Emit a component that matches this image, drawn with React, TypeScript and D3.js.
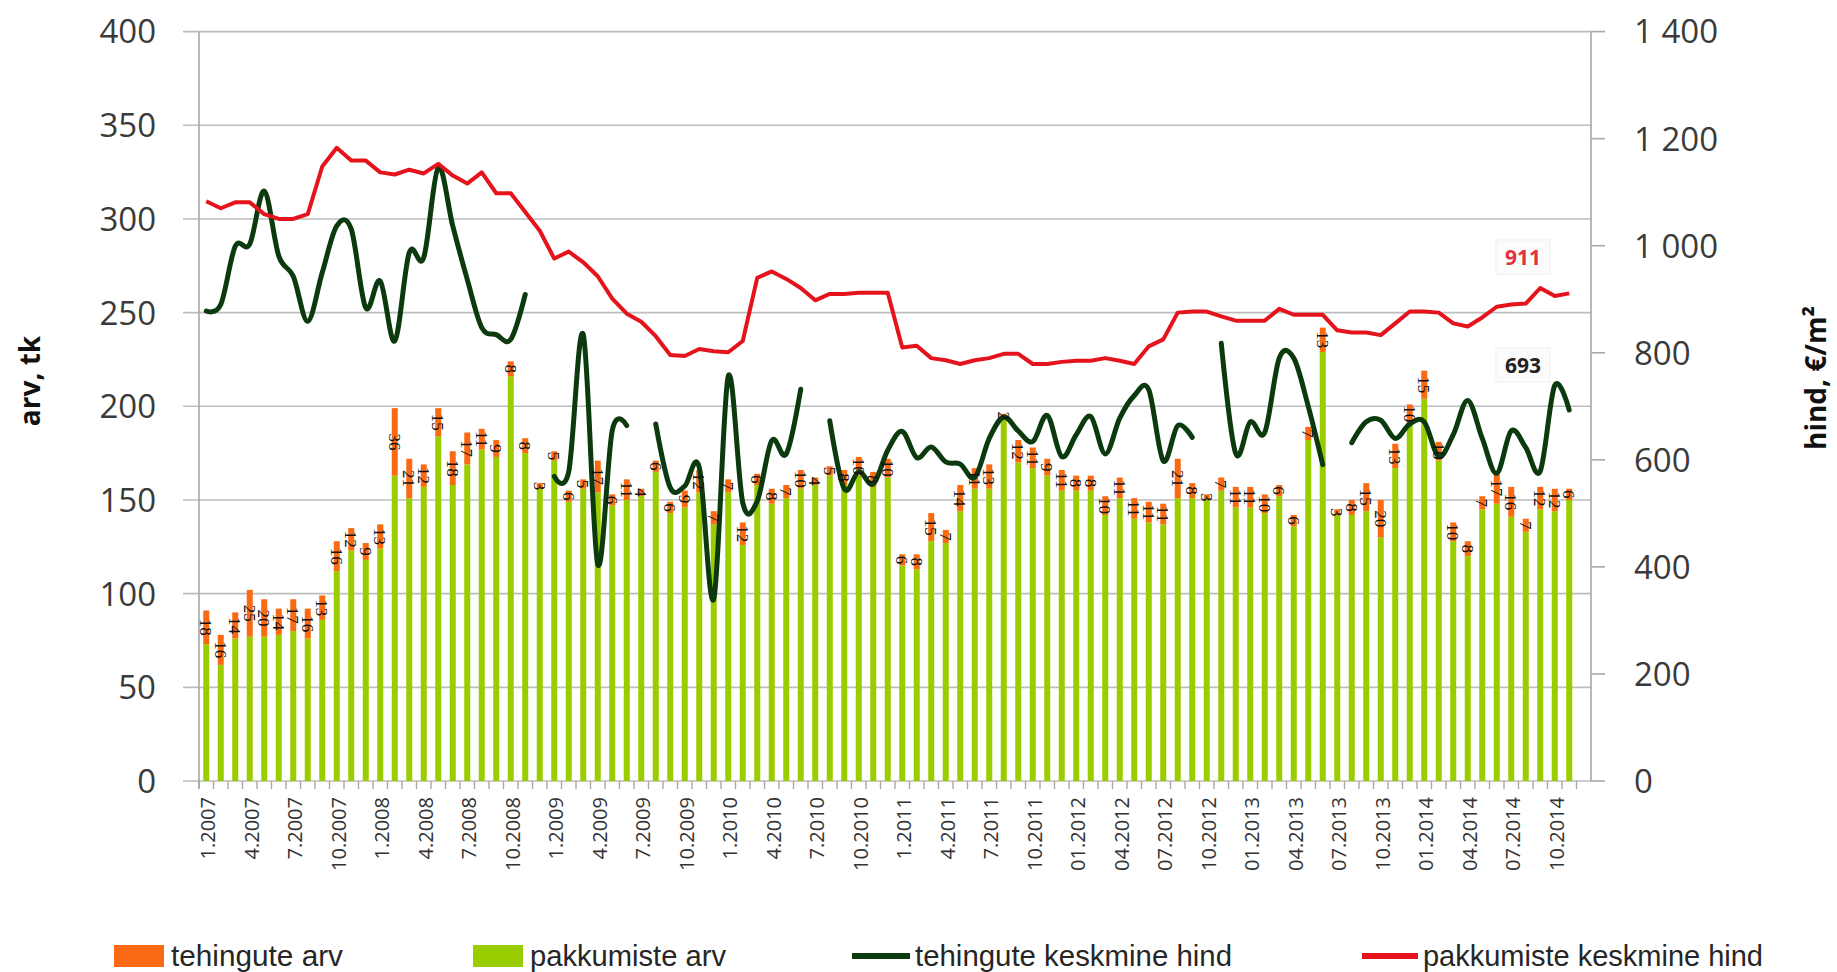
import React, { useEffect } from 'react';
import * as d3 from 'd3';

const W = 1837;
const H = 972;

// kuud 1.2007 ... 12.2014 (viimane kuu on tühi)
const years = [2007, 2008, 2009, 2010, 2011, 2012, 2013, 2014];
const months: string[] = [];
years.forEach(y => { for (let m = 1; m <= 12; m++) months.push(`${m}.${y}`); });

// igal kolmandal kuul näidatav silt
const tickLabels = [
    "1.2007", "4.2007", "7.2007", "10.2007", "1.2008", "4.2008", "7.2008", "10.2008",
    "1.2009", "4.2009", "7.2009", "10.2009", "1.2010", "4.2010", "7.2010", "10.2010",
    "1.2011", "4.2011", "7.2011", "10.2011", "01.2012", "04.2012", "07.2012", "10.2012",
    "01.2013", "04.2013", "07.2013", "10.2013", "01.2014", "04.2014", "07.2014", "10.2014",
];

const leftTicks = [0, 50, 100, 150, 200, 250, 300, 350, 400];
const rightTicks = [0, 200, 400, 600, 800, 1000, 1200, 1400];

const pakkumisteArv = [
    73, 62, 76, 77, 77, 78, 80, 76, 86, 112, 123, 118, 124, 163, 151, 157,
    184, 158, 169, 177, 173, 216, 175, 156, 171, 149, 156, 154, 147, 150, 152, 165,
    143, 146, 154, 137, 154, 126, 158, 148, 151, 156, 158, 163, 158, 163, 157, 162, 115,
    113, 128, 127, 144, 156, 156, 194, 170, 167, 163, 155, 155, 155, 142, 151, 140,
    138, 137, 151, 151, 150, 155, 146, 146, 143, 152, 136, 182, 229, 142, 142, 144,
    130, 167, 191, 204, 171, 128, 120, 145, 148, 141, 133, 145, 144, 150,
];

const tehinguteArv = [
    18, 16, 14, 25, 20, 14, 17, 16, 13, 16, 12, 9, 13, 36, 21, 12,
    15, 18, 17, 11, 9, 8, 8, 3, 5, 6, 5, 17, 6, 11, 4, 6,
    6, 9, 12, 7, 7, 12, 6, 8, 7, 10, 4, 5, 8, 10, 8, 10, 6,
    8, 15, 7, 14, 11, 13, 2, 12, 11, 9, 11, 8, 8, 10, 11, 11,
    11, 11, 21, 8, 3, 7, 11, 11, 10, 6, 6, 7, 13, 3, 8, 15,
    20, 13, 10, 15, 10, 10, 8, 7, 17, 16, 7, 12, 12, 6,
];

const pakkumisteHind = [
    1083, 1070, 1081, 1081, 1059, 1050, 1050, 1059, 1148, 1183, 1159, 1159, 1137, 1133, 1142, 1135,
    1153, 1131, 1116, 1137, 1098, 1098, 1063, 1028, 976, 989, 969, 943, 901, 873, 858, 831,
    796, 794, 807, 803, 801, 822, 940, 952, 938, 921, 898, 910, 910, 912, 912, 912,
    810, 813, 790, 786, 779, 786, 790, 798, 798, 779, 779, 783, 785, 785, 790, 785,
    779, 812, 825, 875, 877, 877, 868, 860, 860, 860, 882, 871, 871, 871, 842, 838,
    838, 833, 855, 877, 877, 875, 855, 849, 866, 886, 890, 892, 921, 906, 911,
];

const tehinguteHind: (number | null)[] = [
    878, 890, 999, 1003, 1102, 981, 943, 859, 950, 1037, 1031, 884, 934, 822, 987, 978,
    1146, 1037, 937, 847, 834, 825, 909, null, 569, 578, 834, 405, 655, 664, null, 667,
    548, 551, 586, 340, 756, 520, 523, 636, 611, 732, null, 673, 546, 578, 555, 618,
    653, 604, 624, 596, 592, 567, 640, 680, 654, 634, 683, 606, 647, 681, 611, 678,
    720, 731, 598, 664, 642, null, 818, 612, 671, 651, 790, 790, 700, 591, null, 632,
    671, 674, 640, 667, 671, 606, 647, 711, 640, 575, 654, 623, 579, 739, 693,
];

const legendItems = [
    { label: "tehingute arv", kind: "rect", color: "#FA6A12", x: 114, tx: 171, tw: 172 },
    { label: "pakkumiste arv", kind: "rect", color: "#9ACD00", x: 473, tx: 530, tw: 196 },
    { label: "tehingute keskmine hind", kind: "line", color: "#0B3A0E", x: 852, tx: 915, tw: 317 },
    { label: "pakkumiste keskmine hind", kind: "line", color: "#E5141C", x: 1362, tx: 1423, tw: 340 },
];

const font = "'Open Sans', 'Liberation Sans', sans-serif";

export default function App() {
    useEffect(() => {
        document.body.style.margin = "0";
        document.body.style.background = "#fff";
    }, []);

    const left = 199, right = 1591, top = 31.6, bottom = 781;

    const x = d3.scaleBand<string>().domain(months).range([left, right]);
    const yL = d3.scaleLinear().domain([0, 400]).range([bottom, top]);
    const yR = d3.scaleLinear().domain([0, 1400]).range([bottom, top]);
    const bw = x.bandwidth();
    const cx = (i: number) => (x(months[i]) as number) + bw / 2;
    const barW = 6;

    const redLine = d3.line<number>()
        .x((d, i) => cx(i))
        .y(d => yR(d));

    const greenLine = d3.line<number | null>()
        .defined(d => d != null)
        .x((d, i) => cx(i))
        .y(d => yR(d as number))
        .curve(d3.curveCatmullRom.alpha(0));

    const fmt = (v: number) => v >= 1000 ? `${Math.floor(v / 1000)} ${String(v % 1000).padStart(3, "0")}` : String(v);

    return (
        <svg width={W} height={H} style={{ display: "block", fontFamily: font }}>
            <rect width={W} height={H} fill="#fff" />

            {/* ruudustik */}
            {leftTicks.map(t => (
                <g key={t}>
                    <line x1={left - 16} x2={right} y1={yL(t)} y2={yL(t)} stroke="#BDBDBD" strokeWidth={1.6} />
                    <text x={156} y={yL(t)} dy="0.36em" textAnchor="end" fontSize={33} fill="#3a3a3a">{t}</text>
                </g>
            ))}
            <line x1={left} x2={left} y1={top} y2={bottom + 8} stroke="#A8A8A8" strokeWidth={1.6} />
            <line x1={right} x2={right} y1={top} y2={bottom} stroke="#A8A8A8" strokeWidth={1.6} />
            {rightTicks.map(t => (
                <g key={t}>
                    <line x1={right} x2={right + 14} y1={yR(t)} y2={yR(t)} stroke="#A8A8A8" strokeWidth={1.6} />
                    <text x={1634} y={yR(t)} dy="0.36em" fontSize={33} fill="#3a3a3a">{fmt(t)}</text>
                </g>
            ))}

            {/* x telg */}
            {months.map((m, i) => (
                <line key={m} x1={x(m)} x2={x(m)} y1={bottom} y2={bottom + 8} stroke="#A8A8A8" strokeWidth={1.4} />
            ))}
            {tickLabels.map((lab, k) => (
                <text key={lab} transform={`translate(${cx(k * 3) + 2},797) rotate(-90)`} dy="0.35em"
                    textAnchor="end" fontSize={20} fill="#333">{lab}</text>
            ))}

            {/* tulbad */}
            {pakkumisteArv.map((g, i) => {
                const t = tehinguteArv[i];
                return (
                    <g key={i}>
                        <rect x={cx(i) - barW / 2} y={yL(g)} width={barW} height={yL(0) - yL(g)} fill="#9ACD00" />
                        <rect x={cx(i) - barW / 2} y={yL(g + t)} width={barW} height={yL(g) - yL(g + t)} fill="#FA6A12" />
                    </g>
                );
            })}

            {/* jooned */}
            <path d={greenLine(tehinguteHind) || ""} fill="none" stroke="#0B3A0E" strokeWidth={5}
                strokeLinejoin="round" strokeLinecap="round" />
            <path d={redLine(pakkumisteHind) || ""} fill="none" stroke="#E5141C" strokeWidth={4}
                strokeLinejoin="round" />

            {/* andmesildid */}
            {pakkumisteArv.map((g, i) => {
                const t = tehinguteArv[i];
                return (
                    <text key={i} transform={`translate(${cx(i)},${yL(g + t / 2)}) rotate(90)`}
                        textAnchor="middle" dy="0.35em" fontSize={17} fill="#111"
                        fontFamily="'Liberation Serif', serif">{t}</text>
                );
            })}

            {/* viimased väärtused */}
            <rect x={1496} y={240} width={54} height={34} fill="#fbfbfb" stroke="#f0f0f0" />
            <text x={1523} y={257} dy="0.36em" textAnchor="middle" fontSize={21} fontWeight="bold" fill="#E0323C">
                {pakkumisteHind[pakkumisteHind.length - 1]}
            </text>
            <rect x={1496} y={348} width={54} height={34} fill="#fbfbfb" stroke="#f0f0f0" />
            <text x={1523} y={365} dy="0.36em" textAnchor="middle" fontSize={21} fontWeight="bold" fill="#222">
                {tehinguteHind[tehinguteHind.length - 1]}
            </text>

            {/* telgede pealkirjad */}
            <text transform="translate(30,381) rotate(-90)" dy="0.35em" textAnchor="middle"
                fontSize={28} fontWeight="bold" fill="#111">arv, tk</text>
            <text transform="translate(1816,378) rotate(-90)" dy="0.35em" textAnchor="middle"
                fontSize={28} fontWeight="bold" fill="#111">hind, €/m²</text>

            {/* legend */}
            {legendItems.map(it => (
                <g key={it.label}>
                    {it.kind === "rect"
                        ? <rect x={it.x} y={945} width={50} height={22} fill={it.color} />
                        : <line x1={it.x} x2={it.tx - 5} y1={956} y2={956} stroke={it.color} strokeWidth={6} />}
                    <text x={it.tx} y={966} fontSize={30} fill="#262626" textLength={it.tw}
                        lengthAdjust="spacingAndGlyphs" fontFamily="'Liberation Sans', sans-serif">{it.label}</text>
                </g>
            ))}
        </svg>
    );
}
